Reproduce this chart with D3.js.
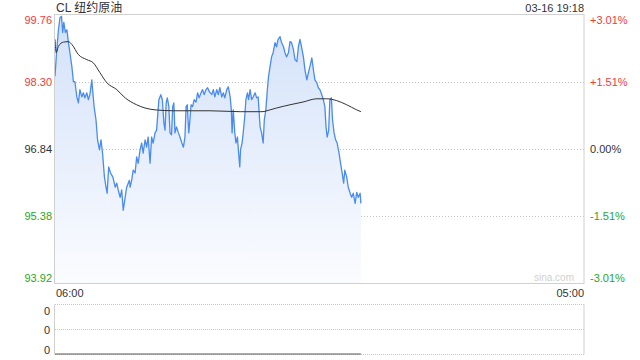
<!DOCTYPE html>
<html>
<head>
<meta charset="utf-8">
<script src="https://cdn.jsdelivr.net/npm/d3@7"></script>
<style>
    body { margin: 0; background: #fff; }
    svg { display: block; font-family: Arial, "Liberation Sans", "Noto Sans CJK SC", sans-serif; }
</style>
</head>
<body>
<svg id="chart"></svg>
<script>
// Minutes after 06:00 and last price
const priceMinutes = [0, 4, 9, 13, 17, 20, 23, 27, 31, 35, 39, 44, 48, 52, 57, 61, 65, 70, 74, 78,
    83, 87, 91, 96, 98, 102, 107, 111, 116, 120, 124, 129, 133, 136, 140, 145, 151, 157, 161, 165,
    170, 174, 178, 183, 187, 194, 196, 200, 204, 209, 213, 217, 222, 226, 230, 235, 239, 243, 248, 252,
    256, 261, 265, 269, 271, 276, 280, 284, 287, 290, 293, 297, 300, 304, 307, 310, 313, 317, 322, 326,
    331, 335, 339, 342, 345, 349, 352, 355, 359, 363, 368, 372, 376, 381, 385, 389, 394, 398, 403, 409,
    413, 417, 422, 426, 430, 435, 439, 443, 448, 452, 457, 460, 462, 465, 469, 472, 476, 479, 482, 484,
    488, 491, 495, 498, 502, 505, 509, 513, 517, 522, 526, 530, 535, 539, 543, 546, 550, 554, 557, 561,
    565, 569, 574, 578, 582, 587, 591, 596, 600, 604, 609, 613, 617, 622, 626, 631, 635, 639, 643, 648,
    652, 657, 661, 665, 670, 674, 678, 683, 687, 691, 696, 700, 704, 707, 710, 714, 717, 721, 724, 728,
    732, 736, 741, 745, 749, 753, 756, 761, 765, 770, 774, 778, 783, 787, 791, 796, 798];
const prices = [98.42, 98.93, 99.43, 99.69, 99.72, 99.37, 99.59, 99.37, 99.43, 99.15, 98.93, 98.63, 98.30, 98.30, 97.97, 97.84, 98.13, 97.97, 98.06, 97.95,
    98.06, 97.91, 98.02, 98.34, 98.13, 97.76, 97.47, 97.04, 96.82, 97.04, 96.75, 96.23, 96.01, 95.88, 96.45, 96.32, 96.23, 96.01, 96.10, 95.95,
    95.79, 95.95, 95.51, 95.79, 96.01, 96.16, 96.01, 96.16, 96.38, 96.32, 96.67, 96.53, 96.82, 96.97, 96.75, 97.04, 96.88, 97.10, 96.53, 97.10,
    96.97, 97.19, 97.25, 97.69, 97.91, 98.02, 97.91, 97.41, 97.25, 97.84, 97.95, 97.76, 97.19, 97.15, 97.76, 97.84, 97.19, 97.32, 97.19, 97.10,
    96.97, 96.88, 97.10, 97.76, 97.80, 97.19, 97.47, 97.80, 97.76, 97.91, 97.86, 98.06, 97.95, 98.06, 98.13, 98.02, 98.13, 98.17, 98.08, 98.02,
    98.13, 97.97, 98.13, 98.02, 98.17, 97.97, 98.06, 97.95, 98.13, 98.19, 97.97, 97.69, 97.19, 97.69, 97.19, 96.97, 97.10, 96.75, 96.45, 96.82,
    96.97, 97.19, 97.54, 97.91, 98.06, 97.91, 98.13, 97.91, 97.97, 98.06, 97.95, 97.97, 97.32, 97.19, 96.97, 97.47, 97.69, 98.13, 98.41, 98.63,
    98.84, 98.93, 99.15, 99.06, 99.22, 99.28, 99.15, 99.06, 98.93, 98.84, 98.93, 99.17, 99.15, 99.00, 98.78, 98.74, 99.06, 99.22, 99.06, 98.84,
    98.56, 98.34, 98.50, 98.63, 98.82, 98.56, 98.34, 98.28, 98.17, 98.13, 98.02, 97.91, 97.76, 97.32, 97.10, 97.25, 97.91, 97.95, 97.47, 97.19,
    97.04, 96.97, 96.75, 96.53, 96.32, 96.10, 96.38, 96.23, 96.01, 95.88, 95.79, 95.88, 95.66, 95.90, 95.79, 95.88, 95.66];

// Average price line
const avgMinutes = [0, 3, 9, 22, 35, 44, 61, 83, 100, 117, 135, 161, 183, 213, 235, 261, 308, 404, 483, 540,
    561, 578, 613, 647, 683, 709, 735, 761, 787, 798];
const avgPrices = [99.22, 98.93, 99.07, 99.16, 99.17, 99.11, 98.89, 98.78, 98.71, 98.50, 98.28, 98.13, 97.95, 97.80, 97.73, 97.69, 97.67, 97.67, 97.65, 97.65,
    97.69, 97.73, 97.80, 97.86, 97.93, 97.93, 97.89, 97.80, 97.69, 97.65];

// Volume (none traded)
const volumeMinutes = [0, 798];
const volumes = [0, 0];

const priceTicks = [99.76, 98.30, 96.84, 95.38, 93.92];
const pctTicks = ["+3.01%", "+1.51%", "0.00%", "-1.51%", "-3.01%"];
const volumeTicks = [0, 0.5, 1];
const volumeTickLabels = ["0", "0", "0"];
const timeLabels = ["06:00", "05:00"];
const title = "CL 纽约原油";
const stamp = "03-16 19:18";

const W = 640, H = 360;
const plot = {left: 55, right: 584, top: 14.5, bottom: 283.5};
const vol = {top: 304.5, bottom: 354.5};
const RED = "#f03b3b", GREEN = "#1fa81f", TEXT = "#333";

const svg = d3.select("#chart").attr("width", W).attr("height", H);

const x = d3.scaleLinear().domain([0, 1380]).range([plot.left, plot.right]);
const y = d3.scaleLinear().domain([93.92, 99.76]).range([plot.bottom, plot.top]);
const yVol = d3.scaleLinear().domain([0, 1]).range([vol.bottom, vol.top]);

const colorFor = (i, n) => i < Math.floor(n / 2) ? RED : (i > Math.floor(n / 2) ? GREEN : TEXT);

// Gradient for area fill
const grad = svg.append("defs").append("linearGradient")
    .attr("id", "fill")
    .attr("gradientUnits", "userSpaceOnUse")
    .attr("x1", 0).attr("x2", 0)
    .attr("y1", plot.top).attr("y2", plot.bottom);
grad.append("stop").attr("offset", "0%").attr("stop-color", "#d2e1f9");
grad.append("stop").attr("offset", "100%").attr("stop-color", "#fbfcff");

// Dotted gridlines
svg.append("g").selectAll("line")
    .data(priceTicks.slice(1, -1))
    .join("line")
    .attr("x1", plot.left).attr("x2", plot.right)
    .attr("y1", d => Math.round(y(d)) + 0.5).attr("y2", d => Math.round(y(d)) + 0.5)
    .attr("stroke", "#c8c8c8")
    .attr("stroke-dasharray", "1,2");

// Price data
const pts = priceMinutes.map((m, i) => ({m: m, p: prices[i]}));
const avgPts = avgMinutes.map((m, i) => ({m: m, p: avgPrices[i]}));

svg.append("path")
    .datum(pts)
    .attr("fill", "url(#fill)")
    .attr("d", d3.area().x(d => x(d.m)).y0(plot.bottom).y1(d => y(d.p)));

svg.append("path")
    .datum(pts)
    .attr("fill", "none")
    .attr("stroke", "#4a8bf0")
    .attr("stroke-width", 1.3)
    .attr("stroke-linejoin", "round")
    .attr("d", d3.line().x(d => x(d.m)).y(d => y(d.p)));

svg.append("path")
    .datum(avgPts)
    .attr("fill", "none")
    .attr("stroke", "#333")
    .attr("stroke-width", 1)
    .attr("d", d3.line().curve(d3.curveMonotoneX).x(d => x(d.m)).y(d => y(d.p)));

// Frame of the price panel
svg.append("rect")
    .attr("x", plot.left - 0.5).attr("y", plot.top)
    .attr("width", plot.right - plot.left + 0.5).attr("height", plot.bottom - plot.top)
    .attr("fill", "none")
    .attr("stroke", "#d0d0d0");

// Left axis: prices
const leftAxis = svg.append("g")
    .attr("transform", `translate(${plot.left - 3},0)`)
    .call(d3.axisLeft(y).tickValues(priceTicks).tickSize(0).tickPadding(0).tickFormat(d3.format(".2f")));
leftAxis.select(".domain").remove();
leftAxis.selectAll("text")
    .attr("font-size", 11)
    .attr("font-family", "Arial, 'Liberation Sans', sans-serif")
    .attr("fill", (d, i) => colorFor(i, priceTicks.length))
    .attr("dy", (d, i) => i === 0 ? "0.85em" : (i === priceTicks.length - 1 ? "-0.15em" : "0.32em"));

// Right axis: percent change
const rightAxis = svg.append("g")
    .attr("transform", `translate(${plot.right + 6},0)`)
    .call(d3.axisRight(y).tickValues(priceTicks).tickSize(0).tickPadding(0).tickFormat((d, i) => pctTicks[i]));
rightAxis.select(".domain").remove();
rightAxis.selectAll("text")
    .attr("font-size", 11)
    .attr("font-family", "Arial, 'Liberation Sans', sans-serif")
    .attr("fill", (d, i) => colorFor(i, priceTicks.length))
    .attr("dy", (d, i) => i === 0 ? "0.85em" : (i === priceTicks.length - 1 ? "-0.15em" : "0.32em"));

// Title and timestamp
svg.append("text")
    .attr("x", plot.left + 1).attr("y", 12)
    .attr("font-size", 12).attr("fill", TEXT)
    .text(title);
svg.append("text")
    .attr("x", plot.right).attr("y", 12)
    .attr("text-anchor", "end")
    .attr("font-size", 11).attr("fill", TEXT)
    .text(stamp);

// Watermark
svg.append("text")
    .attr("x", plot.right - 10).attr("y", 281)
    .attr("text-anchor", "end")
    .attr("font-size", 10).attr("fill", "#d0d0d0")
    .text("sina.com");

// Time axis labels
svg.append("text")
    .attr("x", plot.left + 1).attr("y", 297)
    .attr("font-size", 11).attr("fill", TEXT)
    .text(timeLabels[0]);
svg.append("text")
    .attr("x", plot.right).attr("y", 297)
    .attr("text-anchor", "end")
    .attr("font-size", 11).attr("fill", TEXT)
    .text(timeLabels[1]);

// Volume panel
svg.append("g").selectAll("line")
    .data(volumeTicks)
    .join("line")
    .attr("x1", plot.left).attr("x2", plot.right)
    .attr("y1", d => Math.round(yVol(d)) - 0.5).attr("y2", d => Math.round(yVol(d)) - 0.5)
    .attr("stroke", "#c8c8c8")
    .attr("stroke-dasharray", "1,1");
svg.append("line")
    .attr("x1", plot.left - 0.5).attr("x2", plot.left - 0.5)
    .attr("y1", vol.top).attr("y2", vol.bottom)
    .attr("stroke", "#d0d0d0");
svg.append("line")
    .attr("x1", plot.right).attr("x2", plot.right)
    .attr("y1", vol.top).attr("y2", vol.bottom)
    .attr("stroke", "#d0d0d0");

const volAxis = svg.append("g")
    .attr("transform", `translate(${plot.left - 5},0)`)
    .call(d3.axisLeft(yVol).tickValues(volumeTicks).tickSize(0).tickPadding(0).tickFormat((d, i) => volumeTickLabels[i]));
volAxis.select(".domain").remove();
volAxis.selectAll("text")
    .attr("font-size", 11)
    .attr("font-family", "Arial, 'Liberation Sans', sans-serif")
    .attr("fill", TEXT)
    .attr("dy", (d, i) => i === 0 ? "-0.1em" : (i === volumeTicks.length - 1 ? "0.9em" : "0.32em"));

svg.append("path")
    .datum(volumeMinutes.map((m, i) => ({m: m, v: volumes[i]})))
    .attr("fill", "none")
    .attr("stroke", "#555")
    .attr("stroke-width", 1)
    .attr("d", d3.line().x(d => x(d.m)).y(d => yVol(d.v) - 0.5));
</script>
</body>
</html>
